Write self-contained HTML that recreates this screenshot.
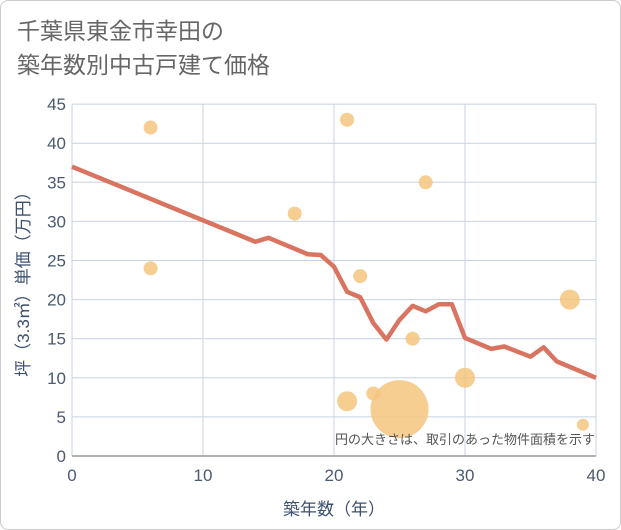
<!DOCTYPE html>
<html><head><meta charset="utf-8"><style>
body{margin:0;background:#fff;}
#wrap{width:619px;height:528px;border:1px solid #ccc;border-radius:8px;position:relative;overflow:hidden;font-family:"Liberation Sans","Noto Sans CJK JP",sans-serif;}
#title{position:absolute;left:16px;top:13px;font-size:23px;line-height:34px;color:#666;}
</style></head><body>
<div id="wrap">
<div id="title">千葉県東金市幸田の<br>築年数別中古戸建て価格</div>
<svg id="chart" width="619" height="528" style="position:absolute;left:0;top:0"></svg>
</div>
<script>
const xTicks=[0,10,20,30,40];
const yTicks=[0,5,10,15,20,25,30,35,40,45];
const lineX=[0,14,15,18,19,20,21,22,23,24,25,26,27,28,29,30,32,33,35,36,37,40];
const lineY=[37,27.4,27.9,25.8,25.7,24.2,21,20.3,17,14.9,17.4,19.2,18.5,19.4,19.4,15.1,13.7,14,12.7,13.9,12.1,10];
const bubX=[6,6,17,21,22,27,26,21,23,25,30,38,39];
const bubY=[42,24,31,43,23,35,15,7,8,6,10,20,4];
const bubR=[7,7,7,7,7,7,7,10,7,29,10,10,6];
const NS='http://www.w3.org/2000/svg';
const svg=document.getElementById('chart');
const X=v=>71+v*13.1, Y=v=>455-v*7.82;
function mk(t,a,p){const e=document.createElementNS(NS,t);for(const k in a)e.setAttribute(k,a[k]);(p||svg).appendChild(e);return e;}
yTicks.forEach(v=>{const l=mk('line',{x1:X(0),x2:X(40),y1:Y(v),y2:Y(v),stroke:'#c8d2e0','stroke-width':1});

const t=mk('text',{x:X(0)-6,y:Y(v)+6,'text-anchor':'end','font-size':17,fill:'#4a5a70'});t.textContent=v;
});
xTicks.forEach(v=>{const l=mk('line',{x1:X(v),x2:X(v),y1:Y(0),y2:Y(45),stroke:'#c8d2e0','stroke-width':1});

const t=mk('text',{x:X(v),y:Y(0)+25,'text-anchor':'middle','font-size':17,fill:'#4a5a70'});t.textContent=v;
});
const ax=mk('line',{x1:X(0),x2:X(40),y1:Y(0),y2:Y(0),stroke:'#999','stroke-width':1.5});

bubX.forEach((v,i)=>{const c=mk('circle',{cx:X(v),cy:Y(bubY[i]),r:bubR[i],fill:'#f5c67e','fill-opacity':0.85});
});
const p=mk('polyline',{points:lineX.map((v,i)=>X(v)+','+Y(lineY[i])).join(' '),fill:'none',stroke:'#d87460','stroke-width':4.5,'stroke-linejoin':'round'});

const n=mk('text',{x:594,y:443,'text-anchor':'end','font-size':13,fill:'#555'});n.textContent='円の大きさは、取引のあった物件面積を示す';

const xt=mk('text',{x:X(20),y:514,'text-anchor':'middle','font-size':17,fill:'#3d5070'});xt.textContent='築年数（年）';

const yt=mk('text',{x:0,y:0,'text-anchor':'middle','font-size':17,fill:'#3d5070',transform:'translate(28,'+Y(22.5)+') rotate(-90)'});yt.textContent='坪（3.3㎡）単価（万円）';

</script>
</body></html>
